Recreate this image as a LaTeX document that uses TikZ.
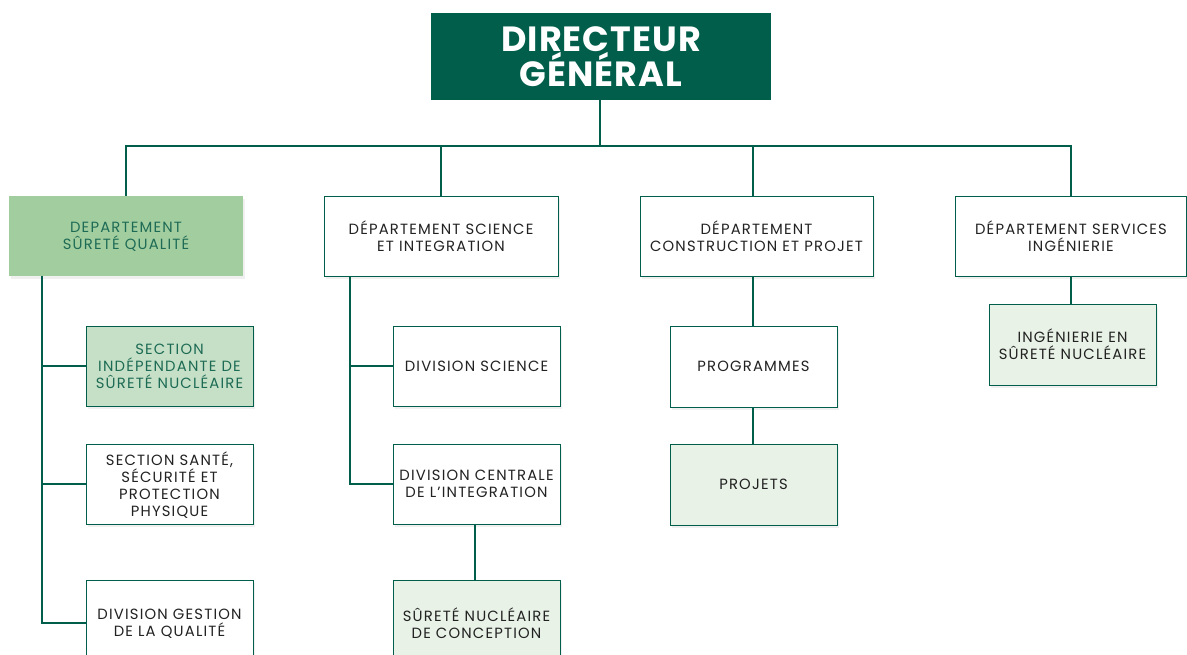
\documentclass[tikz,border=0pt]{standalone}
\usepackage{fontspec}
\setmainfont{Poppins}
\usetikzlibrary{shadows}
\definecolor{dg}{HTML}{005E4B}
\definecolor{lg}{HTML}{A2CD9F}
\definecolor{mg}{HTML}{C5E0C6}
\definecolor{pg}{HTML}{E8F2E6}
\definecolor{tg}{HTML}{1E6B55}
\definecolor{tx}{HTML}{222222}
\begin{document}
\begin{tikzpicture}[x=1pt,y=-1pt,
  conn/.style={draw=dg,line width=2pt},
  box/.style={draw=dg,line width=0.9pt,fill=white,align=center,text=tx,
    font=\fontsize{14.8}{17}\selectfont\addfontfeature{LetterSpace=8},inner sep=0pt,
    text depth=0pt,
    drop shadow={opacity=0.12,shadow xshift=2pt,shadow yshift=-3pt}},
]
\useasboundingbox (0,0) rectangle (1187,655);
\clip (0,0) rectangle (1187,655);
% Director
\node[fill=dg,text=white,align=center,minimum width=340,minimum height=87,inner sep=0pt,
  font=\fontsize{35}{32}\selectfont\bfseries\addfontfeature{LetterSpace=3}] (dg) at (601,56.5) {DIRECTEUR\\GÉNÉRAL};
% departments
\node[box,draw=none,fill=lg,text=tg,minimum width=234,minimum height=80] (d1) at (126,236) {DEPARTEMENT\\SÛRETÉ QUALITÉ};
\node[box,minimum width=234,minimum height=80] (d2) at (441,236) {DÉPARTEMENT SCIENCE\\ET INTEGRATION};
\node[box,minimum width=233,minimum height=80] (d3) at (756.5,236) {DÉPARTEMENT\\CONSTRUCTION ET PROJET};
\node[box,minimum width=231,minimum height=80] (d4) at (1071,236) {DÉPARTEMENT SERVICES\\INGÉNIERIE};
% column 1
\node[box,fill=mg,text=tg,minimum width=167,minimum height=80] (s1) at (169.5,366) {SECTION\\INDÉPENDANTE DE\\SÛRETÉ NUCLÉAIRE};
\node[box,minimum width=167,minimum height=80] (s2) at (169.5,484) {SECTION SANTÉ,\\SÉCURITÉ ET\\PROTECTION\\PHYSIQUE};
\node[box,minimum width=167,minimum height=86] (s3) at (169.5,623) {DIVISION GESTION\\DE LA QUALITÉ};
% column 2
\node[box,minimum width=167,minimum height=80] (ds) at (476.5,366) {DIVISION SCIENCE};
\node[box,minimum width=167,minimum height=80] (dci) at (476.5,484) {DIVISION CENTRALE\\DE L’INTEGRATION};
\node[box,fill=pg,minimum width=167,minimum height=86] (snc) at (476.5,623) {SÛRETÉ NUCLÉAIRE\\DE CONCEPTION};
% column 3
\node[box,minimum width=167,minimum height=81] (pr) at (753.5,366.5) {PROGRAMMES};
\node[box,fill=pg,minimum width=167,minimum height=81] (pj) at (753.5,484.5) {PROJETS};
% column 4
\node[box,fill=pg,minimum width=167,minimum height=81] (isn) at (1072.5,344.5) {INGÉNIERIE EN\\SÛRETÉ NUCLÉAIRE};
% bus
\coordinate (bus) at (600,146);
\draw[conn] (dg.south -| bus) -- (bus);
\draw[conn] (d1.north) |- (bus) -| (d4.north);
\draw[conn] (d2.north) -- (d2.north |- bus);
\draw[conn] (d3.north -| 753,0) -- (753,146);
% column 1 connectors
\coordinate (c1) at (42,276);
\draw[conn] (c1) |- (s3.west);
\draw[conn] (s1.west) -- (s1.west -| c1);
\draw[conn] (s2.west) -- (s2.west -| c1);
% column 2
\coordinate (c2) at (350,276);
\draw[conn] (c2) |- (dci.west);
\draw[conn] (ds.west) -- (ds.west -| c2);
\draw[conn] (475,524) -- (475,580);
% column 3
\draw[conn] (753,276) -- (pr.north -| 753,0);
\draw[conn] (pr.south -| 753,0) -- (pj.north -| 753,0);
% column 4
\draw[conn] (d4.south -| 1071,0) -- (isn.north -| 1071,0);
\end{tikzpicture}
\end{document}
